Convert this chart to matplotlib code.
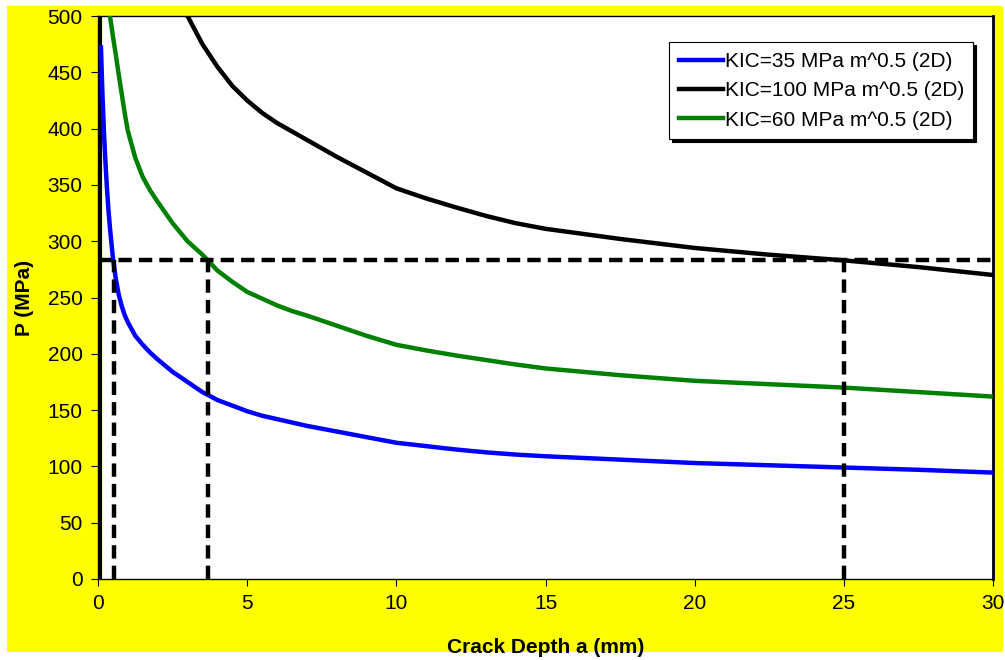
import matplotlib.pyplot as plt
from matplotlib.patches import Rectangle

plt.rcParams['font.family'] = ['Liberation Sans', 'DejaVu Sans']

# crack depth (mm) and failure stress (MPa) for each fracture toughness
a_35 = [0.1, 0.15, 0.2, 0.25, 0.3, 0.35, 0.4, 0.5, 0.6, 0.7, 0.8, 0.9, 1.0,
        1.25, 1.5, 1.75, 2, 2.5, 3, 3.5, 4, 4.5, 5, 5.5, 6, 6.5, 7, 7.5, 8, 9,
        10, 11, 12, 13, 14, 15, 17.5, 20, 22.5, 25, 27.5, 30]
p_35 = [472, 430, 396, 370, 347, 328, 312, 285, 266, 252, 242, 234, 228,
        216, 208, 201, 195, 184, 175, 166, 159, 154, 149, 145, 142, 139, 136, 133.5, 131, 126,
        121, 118, 115, 112.5, 110.5, 109, 106, 103, 101, 99, 97, 94.5]

a_100 = [3, 3.5, 4, 4.5, 5, 5.5, 6, 7, 8, 9, 10, 11, 12, 13, 14, 15,
         17.5, 20, 22.5, 25, 27.5, 30]
p_100 = [500, 475, 455, 438, 425, 414, 405, 390, 375, 361, 347, 338, 330, 322.5, 316, 311,
         302, 294, 288, 283, 277, 270]

a_60 = [0.4, 0.5, 0.6, 0.7, 0.8, 0.9, 1.0, 1.25, 1.5, 1.75, 2, 2.5, 3, 3.5, 4,
        4.5, 5, 5.5, 6, 6.5, 7, 8, 9, 10, 11, 12, 13, 14, 15, 17.5, 20, 22.5, 25, 27.5, 30]
p_60 = [500, 482, 465, 447, 430, 413, 398, 374, 357, 345, 335, 316, 300, 288, 274,
        264, 255, 249, 243, 238, 234, 225, 216, 208, 203, 198.5, 194.5, 190.5, 187, 181, 176, 173, 170, 166, 162]

labels = ['KIC=35 MPa m^0.5 (2D)', 'KIC=100 MPa m^0.5 (2D)', 'KIC=60 MPa m^0.5 (2D)']

# design stress level and the crack depths where each curve reaches it
p_design = 283
a_crit = [0.52, 3.7, 25]

fig = plt.figure(figsize=(10.05, 6.6), dpi=100)
fig.patch.set_facecolor('white')
bg = Rectangle((7 / 1005, 8 / 660), 996 / 1005, 646 / 660,
               transform=fig.transFigure, facecolor='#FFFF00',
               edgecolor='none', zorder=-5)
fig.add_artist(bg)

ax = fig.add_axes([98 / 1005, 81 / 660, 895 / 1005, 563 / 660])
ax.set_zorder(2)
ax.set_facecolor('white')

ax.plot(a_35, p_35, color='#0000FF', lw=3.2, label=labels[0], zorder=3)
ax.plot(a_100, p_100, color='black', lw=3.2, label=labels[1], zorder=3)
ax.plot(a_60, p_60, color='#008000', lw=3.2, label=labels[2], zorder=3)

# thick line along the stress axis
ax.plot([0.06, 0.06], [0, 500], color='black', lw=3, zorder=2)

dash = (0, (3, 1.6))
ax.plot([0, 30], [p_design, p_design], color='black', lw=3.2, linestyle=dash, zorder=4)
for a in a_crit:
    ax.plot([a, a], [0, p_design], color='black', lw=3.2, linestyle=dash, zorder=4)

ax.set_xlim(0, 30)
ax.set_ylim(0, 500)
ax.set_xticks(range(0, 31, 5))
ax.set_yticks(range(0, 501, 50))
ax.tick_params(direction='out', length=5, width=0.8, labelsize=15, pad=6)
for s in ax.spines.values():
    s.set_color('black')
    s.set_linewidth(1)
ax.spines['right'].set_linewidth(2)

ax.set_xlabel('Crack Depth a (mm)', fontsize=15, fontweight='bold', labelpad=18)
ax.set_ylabel('P (MPa)', fontsize=15, fontweight='bold', labelpad=10)

leg = ax.legend(loc='upper right', bbox_to_anchor=(0.978, 0.953), fontsize=15,
                frameon=True, fancybox=False,
                shadow={'color': 'black', 'alpha': 1.0},
                handlelength=2.1, handletextpad=0.1, borderpad=0.45,
                labelspacing=0.5, borderaxespad=0)
leg.get_frame().set_edgecolor('black')
leg.get_frame().set_linewidth(0.8)

fig.savefig('out.png', dpi=100)
